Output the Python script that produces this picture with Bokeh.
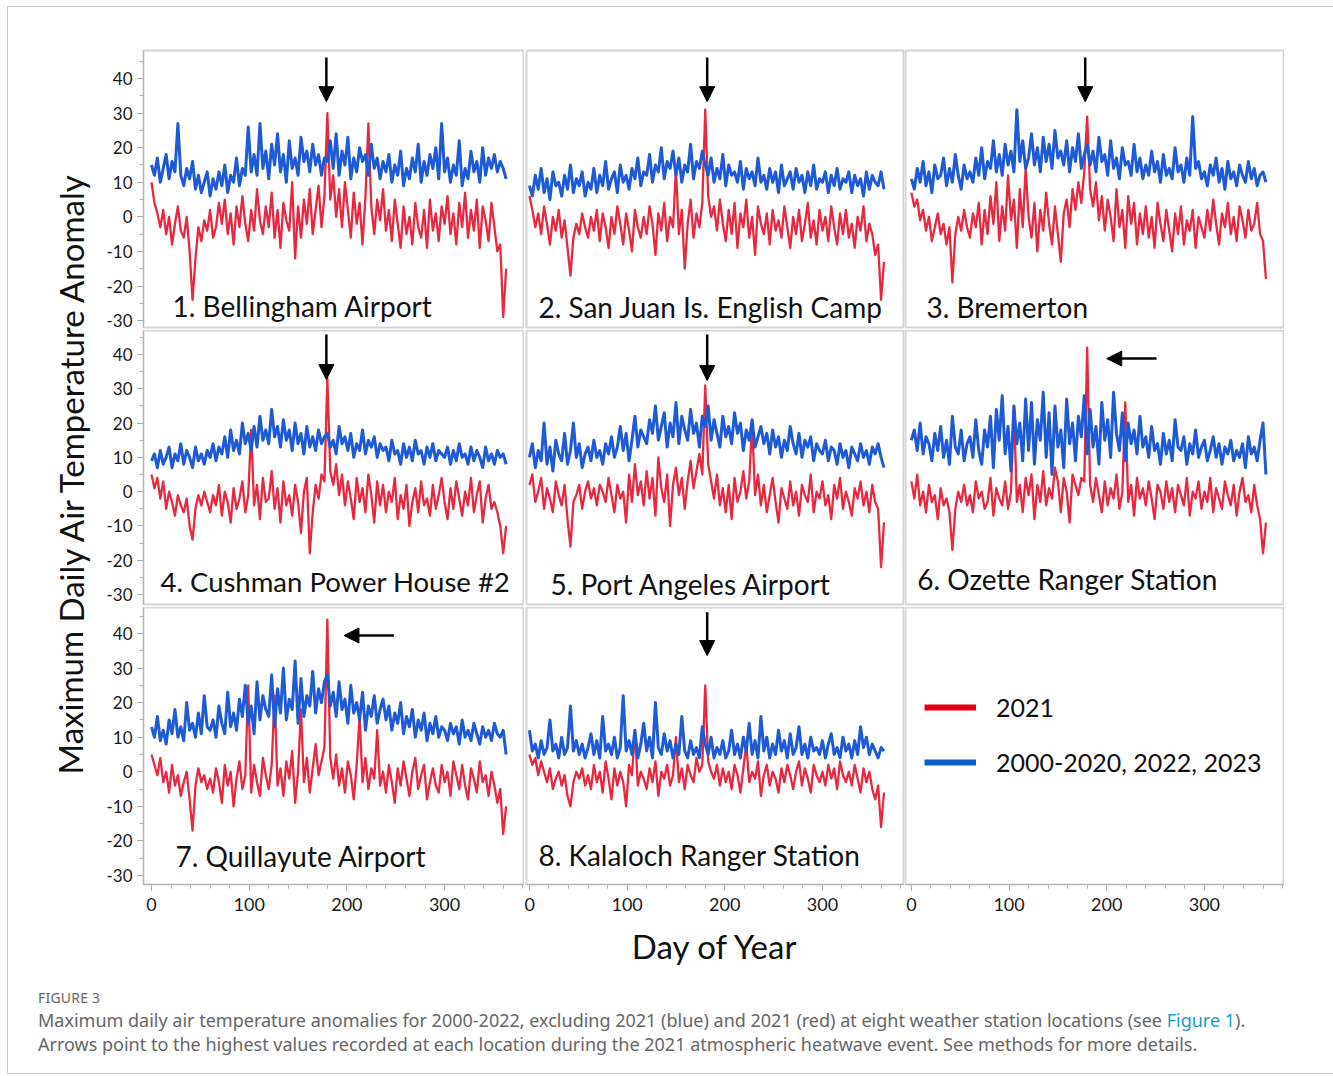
from bokeh.plotting import figure
from bokeh.models import (Range1d, FixedTicker, Label, Arrow, NormalHead, Legend, LegendItem,
                          Div, PrintfTickFormatter)
from bokeh.layouts import row, column
from bokeh.embed import file_html
from bokeh.resources import INLINE

# ---------------- data (values every 3rd day of year, 0..363) ----------------
STEP_DAYS = 3

STATIONS = ["1. Bellingham Airport", "2. San Juan Is. English Camp", "3. Bremerton",
            "4. Cushman Power House #2", "5. Port Angeles Airport", "6. Ozette Ranger Station",
            "7. Quillayute Airport", "8. Kalaloch Ranger Station"]

LEGEND_LABELS = ["2021", "2000-2020, 2022, 2023"]

Y_TICKS = [-30, -20, -10, 0, 10, 20, 30, 40]
X_TICKS = [0, 100, 200, 300]

# peak (2021 heatwave) arrow days and direction
ARROW_DAYS = [179, 182, 178, 179, 182, 200, 197, 182]
ARROW_DIR = ["down", "down", "down", "down", "down", "left", "left", "down"]

BLUE_1 = [15,12,17,10,14,18,11,16,13,27,12,9,14,11,16,8,12,7,10,13,
          6,11,8,13,9,15,7,12,10,17,9,14,12,26,13,18,12,27,14,19,
          11,21,15,24,13,18,10,22,14,17,12,23,16,19,13,21,15,18,12,17,
          16,22,14,24,12,19,15,23,11,17,13,20,16,18,12,21,14,17,11,16,
          13,18,10,15,12,19,9,14,11,17,13,21,10,16,12,18,14,20,11,27,
          13,17,10,15,12,22,9,14,11,19,13,16,10,20,12,17,14,18,13,16,
          14,11]
RED_1 = [10,4,1,-3,2,-5,0,-8,-2,3,-4,-6,0,-10,-24,-12,-3,-7,-1,-4,
         2,-6,-3,4,-2,5,-5,1,-8,3,-3,6,-2,-7,2,-4,8,-1,-5,3,
         -3,7,-6,2,-9,4,-1,-4,10,-12,3,-6,5,-2,8,-5,2,9,-3,6,
         30,5,12,0,8,-3,10,2,-6,7,-2,4,-8,6,27,3,-5,5,-1,8,
         -4,2,-7,5,-2,-9,3,-5,0,-8,4,-3,-6,2,-9,5,-4,1,-7,3,
         -2,6,-5,1,-8,4,-3,7,-6,2,-4,5,-9,3,-1,-7,4,-3,-10,-8,
         -29,-15]

BLUE_2 = [9,6,12,8,14,7,11,5,13,9,10,6,12,8,15,7,11,9,13,6,
          10,8,14,7,12,9,16,8,11,13,7,15,10,12,8,14,11,17,9,13,
          12,18,10,15,13,20,11,16,14,19,12,17,10,15,13,21,11,16,14,19,
          15,12,17,10,14,11,18,9,15,12,13,10,16,8,14,11,13,9,17,10,
          12,8,14,10,13,7,15,9,11,13,8,14,10,12,7,13,9,15,8,11,
          10,13,7,12,9,14,8,11,10,13,7,12,9,11,6,13,8,12,10,9,
          13,8]
RED_2 = [6,2,-3,1,-5,3,-2,-8,0,-4,2,-6,-1,-9,-17,-6,-2,-5,1,-3,
         -6,0,-4,2,-7,1,-3,-9,0,-5,3,-2,-8,1,-4,-10,2,-3,-6,0,
         -5,3,-2,-11,1,-4,4,-7,0,-3,14,-5,2,-15,-2,5,-6,1,-3,4,
         31,6,0,3,-4,5,-2,-7,2,-5,4,-9,1,-3,5,-6,0,-11,3,-2,
         -5,1,-8,2,-4,-1,-6,3,-3,-9,0,-5,2,-7,-2,4,-6,-1,-8,2,
         -4,0,-7,3,-3,-8,1,-5,2,-6,-2,-9,0,-4,3,-7,-2,-5,-11,-8,
         -24,-13]

BLUE_3 = [11,8,14,10,16,9,13,7,15,11,12,17,9,14,10,18,12,8,15,11,
          13,10,17,12,20,11,16,14,22,13,18,12,21,15,19,13,31,16,22,14,
          17,24,15,20,13,23,16,21,14,25,17,19,15,22,13,20,16,24,14,18,
          21,15,19,13,23,16,18,12,22,14,17,11,20,15,16,12,21,13,17,11,
          15,12,19,13,16,10,18,12,14,11,20,13,15,10,17,12,29,14,16,11,
          13,9,15,12,17,10,14,8,16,11,13,9,15,12,10,16,11,14,9,12,
          13,10]
RED_3 = [7,3,5,-1,2,-4,0,-7,-3,1,-5,-2,-8,-3,-19,-5,0,-4,2,-3,
         -6,1,-3,4,-8,2,-5,6,-2,10,-7,3,-4,12,-1,5,-9,8,-3,14,
         0,-6,4,-10,2,-4,7,-2,-8,3,-5,-13,1,5,-3,8,2,10,4,13,
         29,8,3,10,-1,6,-4,5,0,-7,8,-3,2,-9,6,-2,4,-8,1,-5,
         3,-6,0,-9,4,-2,-7,2,-4,-10,1,-5,3,-8,-1,-4,2,-9,0,-3,
         -6,2,-4,5,-2,-8,1,-3,4,-5,0,-7,3,-1,-6,2,-4,-2,4,-5,
         -7,-18]

BLUE_4 = [9,11,7,12,8,10,13,7,11,9,14,8,12,10,7,13,9,11,8,12,
          10,14,9,13,11,16,10,18,12,15,11,20,14,17,12,19,13,22,15,18,
          14,24,16,19,13,21,15,18,12,20,14,17,11,19,13,16,12,18,14,16,
          17,13,15,11,19,14,16,12,17,10,14,12,18,11,15,13,16,10,14,12,
          13,9,15,11,12,8,14,10,13,9,15,11,12,8,13,10,14,9,12,11,
          10,13,8,12,9,14,10,11,8,13,9,12,10,7,13,9,11,8,12,10,
          11,8]
RED_4 = [5,1,4,-2,3,-5,0,-3,-7,-1,-4,-6,-2,-10,-14,-5,-1,-4,0,-3,
         -6,-1,-4,2,-7,0,-3,-9,1,-5,-2,3,-6,-1,18,-4,2,-8,4,-3,
         -2,6,-5,1,-9,3,-4,-1,-7,2,-3,-12,0,4,-18,-6,2,-2,5,3,
         33,6,2,8,-1,5,-4,3,-2,-8,4,-3,1,-6,5,-1,-9,3,-4,2,
         -6,0,-3,4,-8,-1,-5,2,-10,-3,1,-6,3,-4,-2,-7,2,-5,-1,4,
         -3,-8,1,-5,3,-2,-7,0,-4,4,-6,-1,3,-9,-2,2,-5,-3,-6,-10,
         -18,-10]

BLUE_5 = [10,14,7,12,9,20,8,13,6,15,11,9,17,8,12,20,10,14,7,11,
          13,9,15,10,12,8,14,11,16,10,13,19,12,17,9,15,22,13,18,16,
          14,21,17,25,15,19,23,13,20,16,26,14,22,18,15,24,17,20,13,22,
          19,25,15,21,17,13,22,16,19,14,23,17,20,12,18,15,21,13,16,19,
          14,17,11,18,13,16,10,15,12,19,14,11,17,10,15,13,16,9,14,12,
          11,15,9,13,12,8,14,10,12,7,13,11,9,14,10,12,8,13,11,14,
          10,7]
RED_5 = [2,5,-3,0,4,-5,1,-2,-6,3,-1,-4,2,-8,-16,-3,-1,2,-5,0,
         3,-2,1,-4,2,0,-3,4,-1,-6,2,-2,0,-9,5,-3,8,-1,3,-4,
         6,-2,4,-7,10,1,-3,5,-10,2,7,-1,4,-5,3,9,1,6,11,5,
         31,8,3,-2,5,-4,1,-6,2,-8,4,-3,0,6,-2,3,20,-1,5,-4,
         2,-6,-1,4,-3,-9,1,-2,-5,3,-4,0,-7,2,-1,-3,5,-6,0,-2,
         3,-4,-1,-8,2,-2,4,-5,0,-3,-7,1,-2,3,-4,0,-6,2,-3,-5,
         -22,-9]

BLUE_6 = [15,18,12,20,11,16,14,9,17,12,19,10,15,8,22,13,11,18,9,14,
          16,10,21,12,8,18,13,22,7,24,15,28,11,19,6,25,14,20,9,27,
          12,26,8,21,15,29,10,23,5,25,13,18,7,27,14,20,9,22,16,28,
          11,24,13,19,8,26,15,21,10,29,17,12,23,9,20,14,18,11,22,13,
          16,10,19,12,14,8,17,11,15,9,21,13,12,16,8,14,11,18,10,13,
          15,9,12,16,10,14,8,13,11,15,9,12,10,14,7,16,11,13,9,15,
          20,5]
RED_6 = [3,-2,5,-4,0,-6,2,-3,-1,-8,1,-4,-2,-6,-17,-5,0,-3,2,-4,
         -1,-6,3,-2,0,-5,-3,4,-7,1,-2,-4,3,-5,0,25,-3,2,-6,4,
         -1,5,-8,2,-3,6,-4,1,-2,7,3,-6,4,0,-9,5,2,-1,4,3,
         42,2,-3,4,-1,-6,3,-4,1,-2,5,-5,0,26,-3,2,-7,4,-2,1,
         -4,3,-2,-8,2,0,-5,3,-3,1,-6,2,-1,-4,4,-7,0,-2,3,-5,
         0,-3,4,-6,1,-2,-5,3,-1,-4,2,-7,0,4,-3,-1,-6,2,-4,-8,
         -18,-9]

BLUE_7 = [13,10,16,9,12,8,15,11,18,10,13,9,20,12,14,10,17,11,22,13,
          12,15,10,19,14,11,23,13,17,12,21,16,25,14,19,11,26,15,22,18,
          16,28,13,24,17,30,15,21,18,32,14,27,16,22,19,29,17,24,20,26,
          28,19,23,16,26,18,21,14,25,17,20,15,23,12,19,16,22,14,18,21,
          15,19,12,17,14,20,11,16,13,18,10,15,12,17,9,14,11,16,10,13,
          12,9,14,11,13,8,15,10,12,9,14,11,8,13,10,12,9,14,11,10,
          12,5]
RED_7 = [5,2,-1,4,-3,0,-6,2,-4,-1,-7,-3,0,-8,-17,-4,1,-3,-1,-5,
         -2,-6,1,-3,-9,2,-4,0,-10,-2,3,-5,-1,25,-6,2,-3,-7,4,-1,
         -5,2,22,-4,1,-7,3,-2,6,-9,0,18,-3,4,-6,1,8,-1,3,7,
         44,4,-2,5,-4,1,-6,3,-1,-8,2,16,-3,4,-5,1,-2,12,-4,0,
         -6,2,-3,-9,1,-4,3,-2,-7,0,4,-5,-1,2,-8,-3,1,-4,-6,2,
         -3,0,-7,3,-1,-5,2,-4,-8,1,-2,-6,3,-3,-1,-7,0,-4,-9,-5,
         -18,-10]

BLUE_8 = [12,6,8,4,9,5,7,15,6,8,4,10,5,7,19,6,9,5,8,4,
          7,11,5,9,4,16,6,8,5,10,4,7,22,6,9,5,12,4,8,14,
          6,10,4,20,7,5,11,6,9,4,8,5,16,6,4,9,5,7,4,13,
          8,5,10,4,7,5,9,4,6,12,5,8,4,10,6,14,5,9,4,16,
          6,10,4,8,5,12,6,9,4,11,5,7,13,5,8,4,10,6,7,5,
          9,4,8,11,5,7,4,10,6,8,4,9,5,13,7,10,5,8,6,4,
          7,6]
RED_8 = [5,2,4,-1,3,0,-3,1,-5,-2,0,-4,-1,-7,-10,-3,0,-2,1,-4,
         -1,-5,2,-3,0,-6,3,-2,-8,1,-4,0,-3,-10,2,-1,12,-4,0,-2,
         -5,1,-3,3,-7,0,-2,2,-4,-1,10,-3,1,-5,2,-1,-3,4,0,2,
         25,3,0,-2,2,-4,1,-3,0,-5,2,-1,-6,1,8,-3,0,-2,3,-7,
         -1,2,-4,0,-2,-6,1,-3,2,-1,-5,0,3,-4,1,-2,-6,2,-1,-3,
         0,-4,2,-2,1,-5,3,-1,-3,0,-4,2,-2,-6,1,-3,0,-5,-8,-4,
         -16,-6]

BLUE = [BLUE_1, BLUE_2, BLUE_3, BLUE_4, BLUE_5, BLUE_6, BLUE_7, BLUE_8]
RED = [RED_1, RED_2, RED_3, RED_4, RED_5, RED_6, RED_7, RED_8]

# ---------------- styling / layout constants ----------------
RED_C = "#e8283f"
BLUE_C = "#1f5ad6"
FONT = "Lato"
OUTLINE = "#d4d4d4"

COL_XR = [(-8.2, 381.8), (-3.0, 384.0), (-6.0, 382.0)]
COL_FRAME_W = [381, 378, 379]
COL_BORDER_L = [45, 2, 1]
ROW_YR = [(-32.0, 48.1), (-32.9, 47.0), (-32.6, 47.5)]
ROW_FRAME_H = [277, 274, 277]
ROW_BORDER_T = [43, 0, 0]
ROW_BORDER_B = [3, 3, 93]
YLAB_W = 90

# label (x day, y value) per panel, arrow y positions per panel
TITLE_XY = [(21.5, -25.7), (9.2, -26.0), (15.4, -26.0),
            (9.2, -26.2), (21.5, -26.8), (6.1, -25.6),
            (24.6, -24.5), (9.2, -24.2)]
TITLE_SIZE = ["28px", "28px", "28px", "27.5px", "28px", "28px", "28px", "28px"]
ARROW_Y = [(46.1, 33.3), (46.1, 33.3), (46.1, 33.3),
           (45.8, 32.7), (45.8, 32.4), (38.8, 38.8),
           (39.4, 39.4), (46.1, 33.6)]
LEFT_ARROW_LEN = 51


def style_axis(ax, size):
    ax.major_label_text_font = FONT
    ax.major_label_text_font_size = size
    ax.major_label_text_color = "#1a1a1a"
    ax.axis_line_color = "#b5b5b5"
    ax.major_tick_line_color = "#9a9a9a"
    ax.minor_tick_line_color = "#b0b0b0"
    ax.major_tick_in = 0
    ax.major_tick_out = 6
    ax.minor_tick_in = 0
    ax.minor_tick_out = 4
    ax.formatter = PrintfTickFormatter(format="%d")


def make_fig(r, c):
    w = COL_BORDER_L[c] + COL_FRAME_W[c]
    h = ROW_BORDER_T[r] + ROW_FRAME_H[r] + ROW_BORDER_B[r]
    p = figure(width=w, height=h, output_backend="svg", toolbar_location=None,
               x_range=Range1d(*COL_XR[c]), y_range=Range1d(*ROW_YR[r]),
               x_axis_location="below" if r == 2 else None,
               y_axis_location="left" if c == 0 else None,
               min_border=0)
    p.min_border_left = COL_BORDER_L[c]
    p.min_border_right = 0
    p.min_border_top = ROW_BORDER_T[r]
    p.min_border_bottom = ROW_BORDER_B[r]
    p.grid.visible = False
    p.outline_line_color = OUTLINE
    p.outline_line_width = 2
    p.background_fill_color = "white"
    p.border_fill_color = "white"
    if c == 0:
        ax = p.yaxis[0]
        ax.ticker = FixedTicker(ticks=Y_TICKS, minor_ticks=list(range(-30, 46, 5)))
        style_axis(ax, "17px")
        ax.major_label_standoff = 5
    if r == 2:
        ax = p.xaxis[0]
        ax.ticker = FixedTicker(ticks=X_TICKS, minor_ticks=list(range(0, 381, 20)))
        style_axis(ax, "18px")
        ax.major_label_standoff = 7
        if c == 1:
            ax.axis_label = "Day of Year"
            ax.axis_label_text_font = FONT
            ax.axis_label_text_font_size = "33px"
            ax.axis_label_text_font_style = "normal"
            ax.axis_label_text_color = "#111111"
            ax.axis_label_standoff = 12
    return p


figs = []
for k in range(9):
    r, c = divmod(k, 3)
    p = make_fig(r, c)
    if k < 8:
        red = RED[k]
        blue = BLUE[k]
        xr = list(range(0, STEP_DAYS * len(red), STEP_DAYS))
        xb = list(range(0, STEP_DAYS * len(blue), STEP_DAYS))
        p.line(xr, red, line_color=RED_C, line_width=2.3, line_join="round")
        p.line(xb, blue, line_color=BLUE_C, line_width=3.0, line_join="round")
        tx, ty = TITLE_XY[k]
        p.add_layout(Label(x=tx, y=ty, text=STATIONS[k], text_font=FONT,
                           text_font_size=TITLE_SIZE[k], text_color="#111111",
                           text_baseline="middle", text_align="left"))
        y0, y1 = ARROW_Y[k]
        d = ARROW_DAYS[k]
        head = NormalHead(size=15, fill_color="black", line_color="black", line_width=1)
        if ARROW_DIR[k] == "down":
            arr = Arrow(end=head, x_start=d, y_start=y0, x_end=d, y_end=y1,
                        line_color="black", line_width=2.5)
        else:
            arr = Arrow(end=head, x_start=d + LEFT_ARROW_LEN, y_start=y0, x_end=d, y_end=y1,
                        line_color="black", line_width=2.5)
        p.add_layout(arr)
    else:
        nan = float("nan")
        r1 = p.line([nan], [nan], line_color="#e60012", line_width=6)
        r2 = p.line([nan], [nan], line_color="#0b5fc6", line_width=6)
        leg = Legend(items=[LegendItem(label=LEGEND_LABELS[0], renderers=[r1]),
                            LegendItem(label=LEGEND_LABELS[1], renderers=[r2])],
                     location=(19, 107), border_line_color=None,
                     background_fill_alpha=0, label_text_font=FONT,
                     label_text_font_size="25px", label_text_color="#111111",
                     glyph_width=52, glyph_height=30, label_standoff=20,
                     spacing=25, padding=0, margin=0)
        p.add_layout(leg)
    figs.append(p)

total_h = sum(ROW_BORDER_T[r] + ROW_FRAME_H[r] + ROW_BORDER_B[r] for r in range(3))
ylab = figure(width=YLAB_W, height=total_h, output_backend="svg", toolbar_location=None,
              x_axis_location=None, y_axis_location=None, min_border=0,
              x_range=Range1d(0, YLAB_W), y_range=Range1d(0, total_h))
ylab.grid.visible = False
ylab.outline_line_color = None
ylab.add_layout(Label(x=62, y=total_h - 465, text="Maximum Daily Air Temperature Anomaly",
                      angle=1.5707963, text_font=FONT, text_font_size="33px",
                      text_color="#111111", text_align="center", text_baseline="middle"))

grid = column(row(*figs[0:3]), row(*figs[3:6]), row(*figs[6:9]))

caption_html = (
    '<div style="font-family:\'Noto Sans\',sans-serif;color:#666666;padding-left:25px;padding-top:7px;">'
    '<div style="font-size:14px;line-height:18px;letter-spacing:0.2px;">FIGURE 3</div>'
    '<div style="font-size:18px;line-height:24px;margin-top:1px;">'
    'Maximum daily air temperature anomalies for 2000-2022, excluding 2021 (blue) and 2021 (red) '
    'at eight weather station locations (see <span style="color:#1b9dbd;">Figure 1</span>).<br>'
    'Arrows point to the highest values recorded at each location during the 2021 atmospheric '
    'heatwave event. See methods for more details.</div></div>'
)
caption = Div(text=caption_html, width=1316, height=86)

root = column(row(ylab, grid), caption, margin=(6, 0, 0, 7),
              styles={"border": "1px solid #c8c8c8"})

open("out.html", "w").write(file_html(root, INLINE))
